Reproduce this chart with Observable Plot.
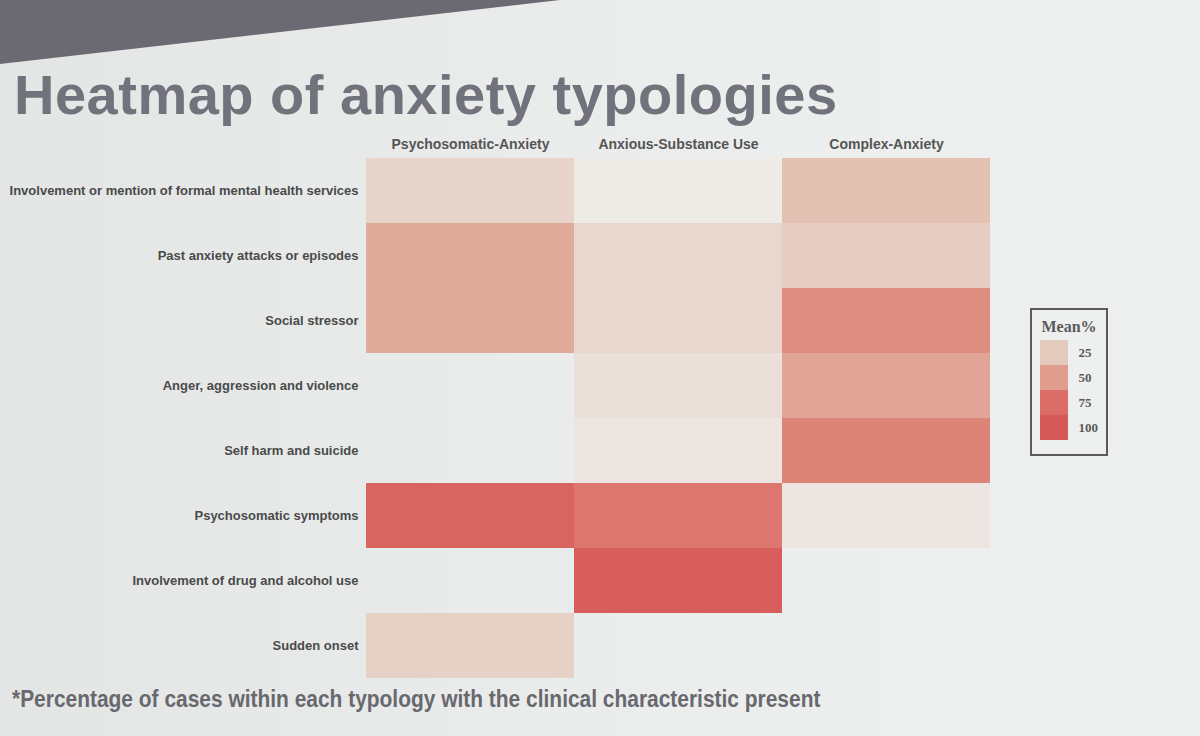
<!DOCTYPE html>
<html>
<head>
<meta charset="utf-8">
<script src="https://cdn.jsdelivr.net/npm/d3@7"></script>
<script src="https://cdn.jsdelivr.net/npm/@observablehq/plot@0.6"></script>
<style>
  html, body { margin: 0; padding: 0; }
  body { width: 1200px; height: 736px; overflow: hidden; position: relative;
         background: linear-gradient(90deg, #e3e6e5 0%, #eceeed 60%, #eef0ef 100%);
         font-family: "Liberation Sans", Arial, sans-serif; }
  #band1 { position: absolute; left: 0; top: 0; width: 560px; height: 64px;
           background: #6b6a72; clip-path: polygon(0 0, 100% 0, 0 100%); }
  #band2 { position: absolute; left: 0; top: 0; width: 260px; height: 30px;
           background: #c4c4c6; clip-path: polygon(0 0, 100% 0, 0 100%); }
  #title { position: absolute; left: 14px; top: 62px; font-size: 56px; font-weight: bold;
           color: #72727c; letter-spacing: 0.5px; white-space: nowrap; }
  #chart { position: absolute; left: 0; top: 96px; }
  #legend { position: absolute; left: 1030px; top: 308px; width: 78px; height: 148px;
            border: 2px solid #5a5a5a; box-sizing: border-box; background: transparent; }
  #legend .lt { font-family: "Liberation Serif", "Times New Roman", serif; font-weight: bold;
                font-size: 16px; color: #5a5a5a; text-align: center; margin-top: 8px; }
  #note { position: absolute; left: 12px; top: 686px; font-size: 23px; font-weight: bold;
          color: #68686e; white-space: nowrap; transform: scaleX(0.91); transform-origin: 0 0;
          font-family: "Liberation Sans", Arial, sans-serif; }
</style>
</head>
<body>
<div id="band2"></div>
<div id="band1"></div>
<div id="title">Heatmap of anxiety typologies</div>
<div id="chart"></div>
<div id="legend"><div class="lt">Mean%</div><div id="legplot"></div></div>
<div id="note">*Percentage of cases within each typology with the clinical characteristic present</div>
<script>
// ---- data (Mean % of cases with the characteristic) ----
const typologies = ["Psychosomatic-Anxiety", "Anxious-Substance Use", "Complex-Anxiety"];
const characteristics = [
  "Involvement or mention of formal mental health services",
  "Past anxiety attacks or episodes",
  "Social stressor",
  "Anger, aggression and violence",
  "Self harm and suicide",
  "Psychosomatic symptoms",
  "Involvement of drug and alcohol use",
  "Sudden onset"
];
const psychosomaticAnxiety = [18, 42, 42, null, null, 86, null, 20];
const anxiousSubstanceUse  = [3, 16, 16, 10, 6, 70, 95, null];
const complexAnxiety       = [30, 23, 58, 45, 63, 6, null, null];
const legendTicks = [25, 50, 75, 100];

const series = [psychosomaticAnxiety, anxiousSubstanceUse, complexAnxiety];
const table = [];
typologies.forEach((t, i) => {
  characteristics.forEach((c, j) => {
    const v = series[i][j];
    if (v != null) table.push({typology: t, characteristic: c, value: v});
  });
});

const colorScale = {
  type: "linear",
  domain: [0, 25, 50, 75, 100],
  range: ["#efeeec", "#e4cabd", "#e09c8d", "#db6d67", "#d75a5a"],
  clamp: true
};

const chart = Plot.plot({
  width: 1000,
  height: 588,
  marginLeft: 365,
  marginRight: 10,
  marginTop: 62,
  marginBottom: 6,
  style: {background: "transparent", color: "#4a4a4a", fontFamily: "Liberation Sans, Arial, sans-serif"},
  x: {domain: typologies, axis: null, padding: 0},
  y: {domain: characteristics, axis: null, padding: 0},
  color: colorScale,
  marks: [
    Plot.cell(table, {x: "typology", y: "characteristic", fill: "value", inset: 0}),
    Plot.axisX({anchor: "top", tickSize: 0, tickPadding: 10, fontSize: 14, fontWeight: "bold", fill: "#555", label: null}),
    Plot.axisY({anchor: "left", tickSize: 0, tickPadding: 7, fontSize: 13, fontWeight: "bold", fill: "#4a4a4a", label: null})
  ]
});
document.getElementById("chart").appendChild(chart);

const leg = Plot.plot({
  width: 74,
  height: 108,
  marginLeft: 8,
  marginRight: 38,
  marginTop: 4,
  marginBottom: 4,
  style: {background: "transparent", color: "#5a5a5a", fontFamily: "Liberation Serif, Times New Roman, serif"},
  x: {axis: null, padding: 0},
  y: {domain: legendTicks, padding: 0, axis: null},
  color: colorScale,
  marks: [
    Plot.cell(legendTicks, {x: () => "k", y: d => d, fill: d => d, inset: 0}),
    Plot.axisY({anchor: "right", tickSize: 0, tickPadding: 10, fontSize: 13, fontWeight: "bold", fill: "#5a5a5a", label: null, textAnchor: "start"})
  ]
});
document.getElementById("legplot").appendChild(leg);
</script>
</body>
</html>
